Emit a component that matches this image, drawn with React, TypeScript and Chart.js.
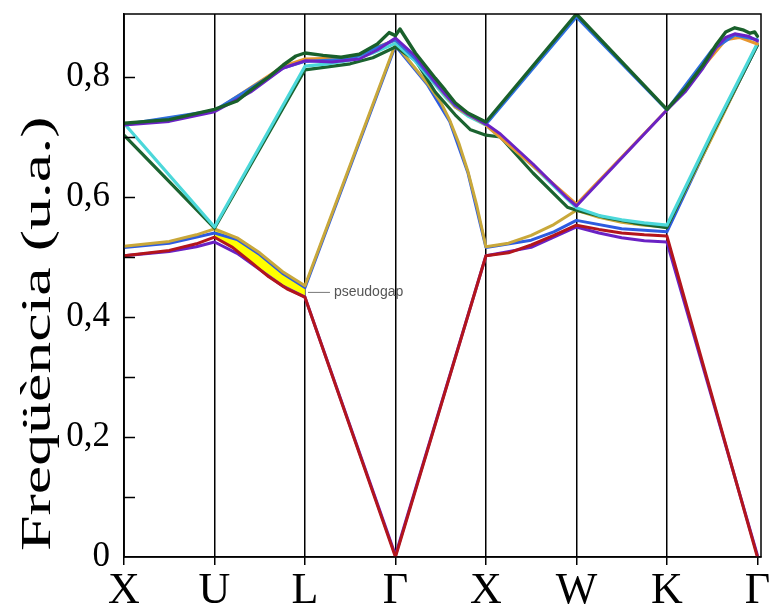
import React, { useEffect, useRef } from 'react';
import { Chart, registerables } from 'chart.js';

Chart.register(...registerables);

type P = [number, number];

// k-path nodes and labels
const kNodes = [0, 1, 2, 3, 4, 5, 6, 7];
const kLabels = ['X', 'U', 'L', 'Γ', 'X', 'W', 'K', 'Γ'];
const freqTicks = [0, 0.1, 0.2, 0.3, 0.4, 0.5, 0.6, 0.7, 0.8];
const freqLabels = ['0', '', '0,2', '', '0,4', '', '0,6', '', '0,8'];
const yTitle = 'Freqüència (u.a.)';
const gapLabel = 'pseudogap';
const gapAt: P = [2, 0.441];

// bands: [k, frequency]
const red: P[] = [
  [0, 0.502], [0.5, 0.511], [0.8, 0.522], [1, 0.533], [1.2, 0.516], [1.4, 0.492],
  [1.6, 0.467], [1.8, 0.447], [2, 0.433], [3, 0], [4, 0.502], [4.25, 0.507],
  [4.5, 0.52], [4.75, 0.536], [5, 0.553], [5.25, 0.546], [5.5, 0.54], [5.75, 0.537],
  [6, 0.535], [7, 0],
];
const purpleLow: P[] = [
  [0, 0.502], [0.5, 0.509], [0.8, 0.517], [1, 0.525], [1.25, 0.506], [1.5, 0.479],
  [1.75, 0.452], [2, 0.433], [3, 0.003], [4, 0.502], [4.5, 0.516], [5, 0.55],
  [5.25, 0.54], [5.5, 0.532], [5.75, 0.527], [6, 0.525], [7, 0.003],
];
const blueLow: P[] = [
  [0, 0.516], [0.5, 0.523], [1, 0.54], [1.25, 0.529], [1.5, 0.504], [1.75, 0.473],
  [2, 0.449], [3, 0.852], [3.35, 0.788], [3.6, 0.726], [3.8, 0.641], [4, 0.516],
  [4.5, 0.528], [4.75, 0.542], [5, 0.561], [5.5, 0.547], [6, 0.542], [6.5, 0.702], [7, 0.853],
];
const olive: P[] = [
  [0, 0.518], [0.5, 0.526], [0.8, 0.537], [1, 0.547], [1.25, 0.532], [1.5, 0.507],
  [1.75, 0.476], [2, 0.452], [3, 0.855], [3.2, 0.818], [3.35, 0.79], [3.5, 0.758],
  [3.6, 0.728], [3.7, 0.69], [3.8, 0.643], [3.9, 0.585], [4, 0.517], [4.25, 0.523],
  [4.5, 0.536], [4.75, 0.554], [5, 0.578], [5.25, 0.566], [5.5, 0.558], [5.75, 0.553],
  [6, 0.55], [6.5, 0.7], [7, 0.855],
];
const greenLow: P[] = [
  [0, 0.703], [1, 0.548], [2, 0.812], [2.5, 0.822], [2.75, 0.832], [3, 0.85],
  [3.22, 0.828], [3.44, 0.775], [3.66, 0.737], [3.83, 0.712], [4, 0.703], [4.16, 0.7],
  [4.52, 0.64], [4.9, 0.583], [5, 0.578], [5.34, 0.565], [5.63, 0.557], [6, 0.549],
  [6.5, 0.705], [7, 0.853],
];
const cyan: P[] = [
  [0, 0.723], [1, 0.55], [2, 0.818], [2.25, 0.822], [2.5, 0.828], [2.75, 0.84],
  [3, 0.856], [3.22, 0.826], [3.44, 0.787], [3.55, 0.767], [3.66, 0.75], [3.8, 0.735],
  [4, 0.72], [4.5, 0.655], [5, 0.582], [5.25, 0.569], [5.5, 0.562], [5.75, 0.557],
  [6, 0.553], [6.5, 0.708], [7, 0.856],
];
const orangeUp: P[] = [
  [0, 0.72], [1, 0.743], [1.76, 0.818], [2, 0.83], [2.5, 0.832], [3, 0.862],
  [3.22, 0.832], [3.44, 0.79], [3.66, 0.75], [4, 0.72], [4.52, 0.652], [5, 0.588],
  [6, 0.745], [6.5, 0.835], [6.65, 0.862], [6.8, 0.866], [7, 0.855],
];
const blueUp: P[] = [
  [0, 0.721], [1, 0.744], [1.76, 0.815], [2, 0.826], [2.5, 0.83], [3, 0.862],
  [3.22, 0.83], [3.44, 0.79], [3.66, 0.752], [4, 0.721], [5, 0.9], [6, 0.745],
  [6.5, 0.845], [6.75, 0.87], [7, 0.862],
];
const purpleUp: P[] = [
  [0, 0.72], [0.5, 0.726], [1, 0.742], [1.4, 0.775], [1.76, 0.815], [2, 0.827],
  [2.3, 0.825], [2.6, 0.83], [2.8, 0.845], [3, 0.865], [3.22, 0.835], [3.44, 0.792],
  [3.55, 0.772], [3.66, 0.754], [3.8, 0.738], [4, 0.722], [4.16, 0.705], [4.52, 0.655],
  [4.9, 0.598], [5, 0.585], [6, 0.745], [6.2, 0.775], [6.4, 0.815], [6.55, 0.85],
  [6.65, 0.866], [6.75, 0.872], [6.9, 0.868], [7, 0.86],
];
const greenTop: P[] = [
  [0, 0.723], [0.5, 0.729], [1, 0.746], [1.25, 0.76], [1.4, 0.778], [1.6, 0.8],
  [1.76, 0.82], [1.9, 0.835], [2, 0.84], [2.2, 0.836], [2.4, 0.833], [2.6, 0.838],
  [2.8, 0.855], [2.93, 0.874], [3, 0.869], [3.05, 0.88], [3.22, 0.84], [3.44, 0.798],
  [3.55, 0.778], [3.66, 0.757], [3.8, 0.74], [4, 0.725], [5, 0.905], [6, 0.746],
  [6.2, 0.78], [6.4, 0.82], [6.55, 0.855], [6.65, 0.875], [6.75, 0.882], [6.85, 0.878],
  [6.92, 0.873], [6.97, 0.875], [7, 0.868],
];

const SERIF = '"Liberation Serif", "Times New Roman", serif';

const toXY = (d: P[]) => d.map(([x, y]) => ({ x, y }));
const line = (label: string, d: P[], color: string, width = 3) => ({
  label,
  data: toXY(d),
  borderColor: color,
  backgroundColor: color,
  borderWidth: width,
  pointRadius: 0,
  fill: false,
  tension: 0,
  borderJoinStyle: 'round' as const,
  borderCapStyle: 'round' as const,
});

const decor = {
  id: 'decor',
  afterDatasetsDraw(chart: any) {
    const { ctx, chartArea: a, scales } = chart;
    ctx.save();
    ctx.strokeStyle = '#000';
    ctx.lineWidth = 1.5;
    ctx.strokeRect(a.left, a.top, a.right - a.left, a.bottom - a.top);
    freqTicks.forEach((v) => {
      if (v === 0) return;
      const y = Math.round(scales.y.getPixelForValue(v)) + 0.5;
      ctx.beginPath();
      ctx.moveTo(a.left, y);
      ctx.lineTo(a.left + 11, y);
      ctx.stroke();
    });
    const px = scales.x.getPixelForValue(gapAt[0]);
    const py = scales.y.getPixelForValue(gapAt[1]);
    ctx.strokeStyle = '#777';
    ctx.lineWidth = 1;
    ctx.beginPath();
    ctx.moveTo(px + 3, py);
    ctx.lineTo(px + 25, py);
    ctx.stroke();
    ctx.fillStyle = '#555';
    ctx.font = '14px "Liberation Sans", Arial, sans-serif';
    ctx.textBaseline = 'middle';
    ctx.textAlign = 'left';
    ctx.fillText(gapLabel, px + 29, py);
    ctx.restore();
  },
  afterDraw(chart: any) {
    // y-axis title, stretched along its length like the reference
    const { ctx, chartArea: a } = chart;
    ctx.save();
    ctx.font = `42px ${SERIF}`;
    const w = ctx.measureText(yTitle).width;
    const target = (a.bottom - a.top) * 0.8;
    ctx.translate(50, a.bottom - 6);
    ctx.rotate(-Math.PI / 2);
    ctx.scale(target / w, 1);
    ctx.fillStyle = '#000';
    ctx.textAlign = 'left';
    ctx.textBaseline = 'alphabetic';
    ctx.fillText(yTitle, 0, 0);
    ctx.restore();
  },
};

export default function App() {
  const ref = useRef<HTMLCanvasElement | null>(null);
  useEffect(() => {
    if (!ref.current) return;
    const inGap = (d: P[]) => d.filter(([k]) => k >= 1 && k <= 2);
    const layers: any[] = [
      { ...line('gapLow', inGap(red), 'rgba(0,0,0,0)', 0) },
      { ...line('gapHigh', inGap(olive), 'rgba(0,0,0,0)', 0), fill: { target: 0 }, backgroundColor: '#ffff00' },
      line('blueLow', blueLow, '#2d5be0'),
      line('olive', olive, '#c9a83a'),
      line('purpleLow', purpleLow, '#6a22c4'),
      line('red', red, '#b3151c'),
      line('greenLow', greenLow, '#1b6330', 3.2),
      line('cyan', cyan, '#4cd8da', 3.2),
      line('orangeUp', orangeUp, '#e8962e'),
      line('blueUp', blueUp, '#2e6fe0'),
      line('purpleUp', purpleUp, '#6a22c4'),
      line('greenTop', greenTop, '#19602b', 3.4),
    ];
    const datasets = layers.map((d, i) => ({ ...d, order: layers.length - i }));
    const chart = new Chart(ref.current, {
      type: 'line',
      data: { datasets },
      options: {
        animation: false,
        responsive: true,
        maintainAspectRatio: false,
        layout: { padding: { top: 14, right: 15, left: 0, bottom: 0 } },
        plugins: { legend: { display: false }, tooltip: { enabled: false }, filler: { propagate: false } },
        scales: {
          x: {
            type: 'linear',
            min: 0,
            max: 7.04,
            afterBuildTicks: (s: any) => {
              s.ticks = kNodes.map((v) => ({ value: v }));
            },
            afterFit: (s: any) => {
              s.height = 53;
              s.paddingLeft = 0;
              s.paddingRight = 0;
            },
            ticks: {
              autoSkip: false,
              maxRotation: 0,
              callback: (_v: any, i: number) => kLabels[i],
              font: { family: SERIF, size: 44 },
              color: '#000',
              padding: 0,
            },
            grid: {
              color: (c: any) => (c.tick && c.tick.value === 7 ? 'rgba(0,0,0,0)' : '#000'),
              tickColor: '#000',
              lineWidth: 1.5,
              tickLength: 8,
            },
            border: { display: true, color: '#000', width: 1.5 },
          },
          y: {
            type: 'linear',
            min: 0,
            max: 0.905,
            afterBuildTicks: (s: any) => {
              s.ticks = freqTicks.map((v) => ({ value: v }));
            },
            afterFit: (s: any) => {
              s.width = 124;
              s.paddingTop = 0;
              s.paddingBottom = 0;
            },
            ticks: {
              autoSkip: false,
              callback: (_v: any, i: number) => freqLabels[i],
              font: { family: SERIF, size: 35 },
              color: '#000',
              padding: 14,
            },
            grid: { display: false, drawTicks: false },
            border: { display: true, color: '#000', width: 1.5 },
          },
        },
      },
      plugins: [decor],
    });
    return () => chart.destroy();
  }, []);
  return (
    <div style={{ position: 'absolute', left: 0, top: 0, width: 776, height: 610, background: '#fff' }}>
      <canvas ref={ref} width={776} height={610} />
    </div>
  );
}
